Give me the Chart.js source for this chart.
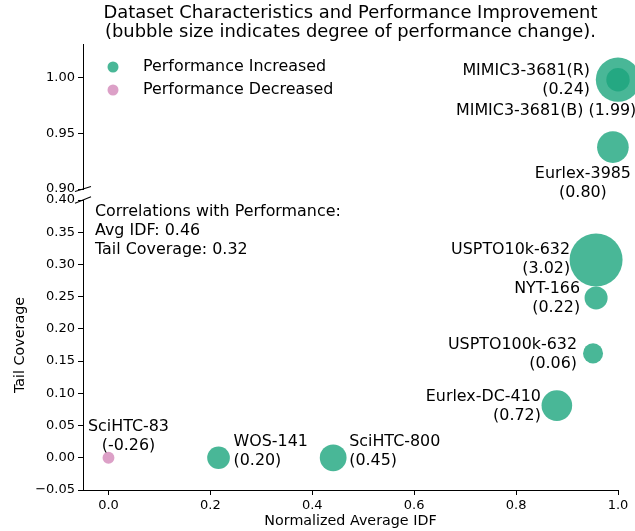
<!DOCTYPE html>
<html>
<head>
<meta charset="utf-8">
<script src="https://cdn.jsdelivr.net/npm/chart.js@4.4.1/dist/chart.umd.min.js"></script>
<style>
html, body { margin: 0; padding: 0; background: #fff; overflow: hidden; }
#wrap { position: relative; width: 635px; height: 531px; }
#wrap canvas { position: absolute; left: 0; top: 0; }
</style>
</head>
<body>
<div id="wrap">
<canvas id="topChart" width="635" height="531"></canvas>
<canvas id="bottomChart" width="635" height="531"></canvas>
</div>
<script>
// data
const datasetNames = ["MIMIC3-3681(B)", "MIMIC3-3681(R)", "Eurlex-3985", "USPTO10k-632", "NYT-166",
    "USPTO100k-632", "Eurlex-DC-410", "SciHTC-83", "WOS-141", "SciHTC-800"];
const avgIdf = [1.0, 1.0, 0.99, 0.957, 0.957, 0.951, 0.880, 0.0, 0.216, 0.441];
const tailCoverage = [0.998, 0.998, 0.9375, 0.307, 0.248, 0.162, 0.081, 0.0, 0.0, 0.0];
const perfChange = [1.99, 0.24, 0.80, 3.02, 0.22, 0.06, 0.72, -0.26, 0.20, 0.45];
const corrNames = ["Avg IDF", "Tail Coverage"];
const corrValues = [0.46, 0.32];
const xTicks = [0.0, 0.2, 0.4, 0.6, 0.8, 1.0];
const topTicks = [0.90, 0.95, 1.00];
const bottomTicks = [-0.05, 0.00, 0.05, 0.10, 0.15, 0.20, 0.25, 0.30, 0.35, 0.40];

const GREEN = "rgba(27,165,125,0.8)";
const PINK = "rgba(205,120,175,0.7)";
const FONT = "DejaVu Sans";

// where each annotation sits relative to its bubble (px)
const labelLayout = {
    "MIMIC3-3681(B)": { dx: -162, dy: 31, align: "left", oneLine: true },
    "MIMIC3-3681(R)": { dx: -28, dy: -9, align: "right" },
    "Eurlex-3985": { dx: -30, dy: 27, align: "center" },
    "USPTO10k-632": { dx: -26, dy: -10, align: "right" },
    "NYT-166": { dx: -16, dy: -9, align: "right" },
    "USPTO100k-632": { dx: -16, dy: -9, align: "right" },
    "Eurlex-DC-410": { dx: -16, dy: -9, align: "right" },
    "SciHTC-83": { dx: 20, dy: -31, align: "center" },
    "WOS-141": { dx: 15, dy: -16, align: "left" },
    "SciHTC-800": { dx: 16, dy: -16, align: "left" }
};

const bubbleRadius = c => Math.sqrt(88 + 203 * c);
const fmtY = v => (v < 0 ? "\u2212" : "") + Math.abs(v).toFixed(2);

const panelDatasets = isTop => {
    const idx = datasetNames.map((_, i) => i).filter(i => (tailCoverage[i] >= 0.9) === isTop);
    const pt = i => ({ x: avgIdf[i], y: tailCoverage[i], r: bubbleRadius(perfChange[i]), i: i });
    return [
        { label: "Performance Increased", data: idx.filter(i => perfChange[i] > 0).map(pt),
          backgroundColor: GREEN, borderWidth: 0, clip: false },
        { label: "Performance Decreased", data: idx.filter(i => perfChange[i] < 0).map(pt),
          backgroundColor: PINK, borderWidth: 0, clip: false }
    ];
};

const tickFont = { family: FONT, size: 13 };
const axisGrid = { display: true, drawOnChartArea: false, drawTicks: true, tickLength: 5, color: "#000", lineWidth: 1 };

const annotPlugin = {
    id: "annot",
    afterDatasetsDraw(chart) {
        const ctx = chart.ctx;
        const xs = chart.scales.x, ys = chart.scales.y;
        ctx.save();
        ctx.fillStyle = "#000";
        ctx.font = `15.9px "${FONT}"`;
        ctx.textBaseline = "middle";
        chart.data.datasets.forEach(ds => ds.data.forEach(p => {
            const name = datasetNames[p.i];
            const lay = labelLayout[name];
            const val = `(${perfChange[p.i].toFixed(2)})`;
            const lines = lay.oneLine ? [`${name} ${val}`] : [name, val];
            const x = xs.getPixelForValue(p.x) + lay.dx;
            const y = ys.getPixelForValue(p.y) + lay.dy;
            ctx.textAlign = lay.align;
            lines.forEach((t, k) => ctx.fillText(t, x, y + k * 19));
        }));
        ctx.restore();
    }
};

const breakPlugin = {
    id: "breakMarks",
    afterDraw(chart, args, opts) {
        const ctx = chart.ctx;
        const a = chart.chartArea;
        const y = opts.atBottom ? a.bottom : a.top;
        const h = opts.atBottom ? 2.5 : 3.2;
        ctx.save();
        ctx.strokeStyle = "#000";
        ctx.lineWidth = 1.1;
        ctx.beginPath();
        ctx.moveTo(a.left - 8, y + h);
        ctx.lineTo(a.left + 8, y - h);
        ctx.stroke();
        ctx.restore();
    }
};

const topTextPlugin = {
    id: "topText",
    afterDraw(chart) {
        const ctx = chart.ctx;
        const a = chart.chartArea;
        const cx = (a.left + a.right) / 2;
        ctx.save();
        ctx.fillStyle = "#000";
        ctx.textBaseline = "middle";
        ctx.textAlign = "center";
        ctx.font = `17.9px "${FONT}"`;
        ctx.fillText("Dataset Characteristics and Performance Improvement", cx, 13);
        ctx.fillText("(bubble size indicates degree of performance change).", cx, 32);
        // legend
        ctx.font = `15.9px "${FONT}"`;
        ctx.textAlign = "left";
        [["Performance Increased", GREEN], ["Performance Decreased", PINK]].forEach((e, k) => {
            const y = 67 + k * 23;
            ctx.fillStyle = e[1];
            ctx.beginPath();
            ctx.arc(113, y, 5.5, 0, Math.PI * 2);
            ctx.fill();
            ctx.fillStyle = "#000";
            ctx.fillText(e[0], 143, y);
        });
        ctx.restore();
    }
};

const bottomTextPlugin = {
    id: "bottomText",
    afterDraw(chart) {
        const ctx = chart.ctx;
        const a = chart.chartArea;
        ctx.save();
        ctx.fillStyle = "#000";
        ctx.textBaseline = "middle";
        ctx.font = `15.9px "${FONT}"`;
        ctx.textAlign = "left";
        const corr = ["Correlations with Performance:"].concat(
            corrNames.map((n, k) => `${n}: ${corrValues[k].toFixed(2)}`));
        corr.forEach((t, k) => ctx.fillText(t, 95, 212 + k * 19));
        ctx.font = `14.3px "${FONT}"`;
        ctx.textAlign = "center";
        ctx.fillText("Normalized Average IDF", (a.left + a.right) / 2, 521);
        ctx.translate(20, (a.top + a.bottom) / 2);
        ctx.rotate(-Math.PI / 2);
        ctx.fillText("Tail Coverage", 0, 0);
        ctx.restore();
    }
};

const makeChart = (canvasId, isTop) => {
    const ctx = document.getElementById(canvasId).getContext("2d");
    return new Chart(ctx, {
        type: "bubble",
        data: { datasets: panelDatasets(isTop) },
        options: {
            responsive: false,
            animation: false,
            events: [],
            layout: {
                autoPadding: false,
                padding: isTop ? { top: 44, bottom: 342, left: 0, right: 17 }
                               : { top: 200, bottom: 0, left: 0, right: 17 }
            },
            scales: {
                x: {
                    type: "linear",
                    display: !isTop,
                    min: -0.05,
                    max: 1.0,
                    afterBuildTicks: s => { s.ticks = xTicks.map(v => ({ value: v })); },
                    afterFit: s => { s.height = isTop ? 0 : 41; },
                    ticks: { font: tickFont, color: "#000", padding: 3, autoSkip: false,
                             maxRotation: 0, callback: v => v.toFixed(1) },
                    grid: axisGrid,
                    border: { display: true, color: "#000", width: 1 }
                },
                y: {
                    type: "linear",
                    min: isTop ? 0.9 : -0.05,
                    max: isTop ? 1.03 : 0.40,
                    afterBuildTicks: s => { s.ticks = (isTop ? topTicks : bottomTicks).map(v => ({ value: v })); },
                    afterFit: s => { s.width = 83; },
                    ticks: { font: tickFont, color: "#000", padding: 3, autoSkip: false, callback: fmtY },
                    grid: axisGrid,
                    border: { display: true, color: "#000", width: 1 }
                }
            },
            plugins: {
                legend: { display: false },
                title: { display: false },
                tooltip: { enabled: false },
                breakMarks: { atBottom: isTop }
            }
        },
        plugins: [annotPlugin, breakPlugin, isTop ? topTextPlugin : bottomTextPlugin]
    });
};

makeChart("topChart", true);
makeChart("bottomChart", false);
</script>
</body>
</html>
